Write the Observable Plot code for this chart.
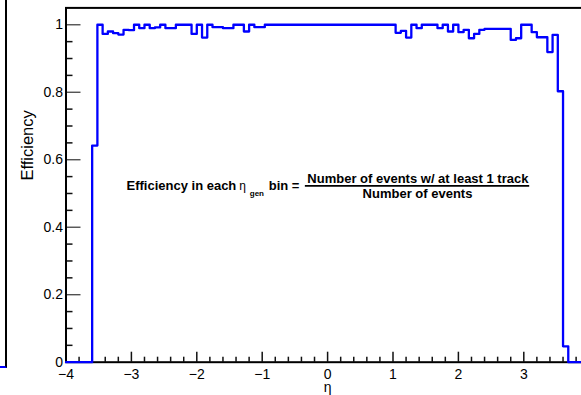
<!DOCTYPE html>
<html>
<head>
<meta charset="utf-8">
<script src="https://cdn.jsdelivr.net/npm/d3@7"></script>
<script src="https://cdn.jsdelivr.net/npm/@observablehq/plot@0.6"></script>
<style>
html, body { margin: 0; padding: 0; background: #fff; }
#wrap { position: relative; width: 581px; height: 395px; overflow: hidden; background: #fff; }
#wrap svg { display: block; }
#edge { position: absolute; left: 0; top: 0; width: 5px; height: 366px; border-right: 2px solid #000; border-bottom: 2px solid #0000ff; z-index: 2; }
</style>
</head>
<body>
<div id="wrap"><div id="edge"></div></div>
<script>
// ---- data ----
const etaStart = -4;
const binWidth = 0.08;
// efficiency per eta bin (100 bins from -4 to 4)
const efficiency = [
  0, 0, 0, 0, 0, 0.642, 1.0, 0.973, 0.98, 0.975,
  0.971, 0.985, 0.984, 1.0, 0.99, 1.0, 0.99, 0.992, 1.0, 0.99,
  0.99, 1.0, 1.0, 1.0, 0.973, 1.0, 0.962, 1.0, 0.993, 0.993,
  0.99, 0.99, 1.0, 1.0, 0.98, 1.0, 0.993, 0.993, 1.0, 1.0,
  1.0, 1.0, 1.0, 1.0, 1.0, 1.0, 1.0, 1.0, 1.0, 1.0,
  1.0, 1.0, 1.0, 1.0, 1.0, 1.0, 1.0, 1.0, 1.0, 1.0,
  1.0, 1.0, 1.0, 0.976, 0.982, 0.962, 1.0, 0.99, 1.0, 1.0,
  1.0, 0.99, 1.0, 0.98, 1.0, 0.978, 0.985, 0.96, 0.973, 0.985,
  0.988, 0.988, 0.988, 0.988, 0.988, 0.955, 0.96, 1.0, 1.0, 0.978,
  0.963, 0.963, 0.919, 0.97, 0.803, 0.047, 0, 0, 0, 0
];
const yMajorTicks = [0, 0.2, 0.4, 0.6, 0.8, 1];
const yMinorTicks = [0.05, 0.1, 0.15, 0.25, 0.3, 0.35, 0.45, 0.5, 0.55, 0.65, 0.7, 0.75, 0.85, 0.9, 0.95];
const xMajorTicks = [-4, -3, -2, -1, 0, 1, 2, 3];
const xMinorTicks = [-3.8, -3.6, -3.4, -3.2, -2.8, -2.6, -2.4, -2.2, -1.8, -1.6, -1.4, -1.2,
  -0.8, -0.6, -0.4, -0.2, 0.2, 0.4, 0.6, 0.8, 1.2, 1.4, 1.6, 1.8, 2.2, 2.4, 2.6, 2.8,
  3.2, 3.4, 3.6, 3.8];
const xTitle = "η";
const yTitle = "Efficiency";
// formula annotation (positions in data units)
const formulaBold = [
  {text: "Efficiency in each", eta: -3.075, eff: 0.5113, anchor: "start"},
  {text: "bin =", eta: -0.90, eff: 0.5113, anchor: "start"},
  {text: "Number of events w/ at least 1 track", eta: 1.381, eff: 0.5305, anchor: "middle"},
  {text: "Number of events", eta: 1.375, eff: 0.4872, anchor: "middle"}
];
const formulaSymbol = [{text: "η", eta: -1.352, eff: 0.509}];
const formulaSub = [{text: "gen", eta: -1.19, eff: 0.4925}];
const fractionBar = [{eta1: -0.34, eta2: 3.09, eff: 0.5225}];

// ---- histogram outline points ----
const steps = efficiency.map((v, i) => ({eta: etaStart + i * binWidth, eff: v}));
steps.push({eta: etaStart + efficiency.length * binWidth, eff: efficiency[efficiency.length - 1]});

const font = "'Liberation Sans', Arial, Helvetica, sans-serif";

const plot = Plot.plot({
  width: 581,
  height: 395,
  marginLeft: 65.5,
  marginRight: -7.7,
  marginTop: 7.4,
  marginBottom: 33.3,
  style: {fontFamily: font, fontSize: "14px", background: "#fff", color: "#000"},
  x: {domain: [-4, 4], label: null},
  y: {domain: [0, 1.05], label: null},
  marks: [
    Plot.axisY(yMinorTicks, {tickSize: -7, text: null, strokeWidth: 1.5, stroke: "#111"}),
    Plot.axisY(yMajorTicks, {tickSize: -15, text: null, strokeWidth: 1.3, stroke: "#444"}),
    Plot.axisY(yMajorTicks, {tickSize: 0, tickPadding: 3, fontSize: 14, label: null, tickFormat: d => String(d)}),
    Plot.axisX(xMinorTicks, {tickSize: -5, text: null, strokeWidth: 1.5, stroke: "#111"}),
    Plot.axisX(xMajorTicks, {tickSize: -10, text: null, strokeWidth: 1.5, stroke: "#111"}),
    Plot.axisX(xMajorTicks, {tickSize: 0, tickPadding: 7, fontSize: 14, label: null}),
    Plot.frame({stroke: "#000", strokeWidth: 2}),
    Plot.line(steps, {x: "eta", y: "eff", curve: "step-after", stroke: "#0000ff", strokeWidth: 2.3}),
    Plot.text([yTitle], {frameAnchor: "left", text: d => d, rotate: -90, dx: -38.5, dy: -4.5, fontSize: 16.5}),
    Plot.text([xTitle], {frameAnchor: "bottom", text: d => d, lineAnchor: "bottom", dy: 29.5, fontSize: 14}),
    Plot.text(formulaBold, {x: "eta", y: "eff", text: "text", textAnchor: "start", lineAnchor: "bottom", fontSize: 13, fontWeight: "bold", filter: d => d.anchor === "start"}),
    Plot.text(formulaBold, {x: "eta", y: "eff", text: "text", textAnchor: "middle", lineAnchor: "bottom", fontSize: 13, fontWeight: "bold", filter: d => d.anchor === "middle"}),
    Plot.text(formulaSymbol, {x: "eta", y: "eff", text: "text", textAnchor: "start", lineAnchor: "bottom", fontSize: 12}),
    Plot.text(formulaSub, {x: "eta", y: "eff", text: "text", textAnchor: "start", lineAnchor: "bottom", fontSize: 8, fontWeight: "bold"}),
    Plot.ruleY(fractionBar, {y: "eff", x1: "eta1", x2: "eta2", stroke: "#000", strokeWidth: 1.8})
  ]
});
document.getElementById("wrap").appendChild(plot);
</script>
</body>
</html>
